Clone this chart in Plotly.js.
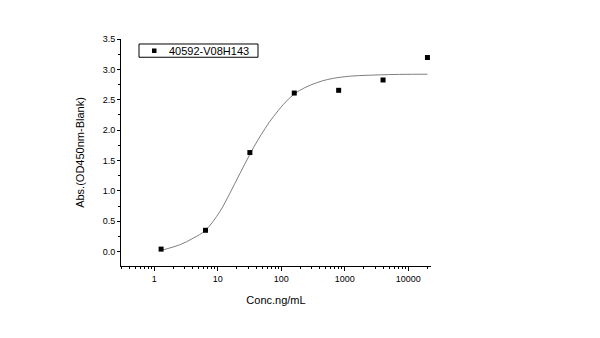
<!DOCTYPE html>
<html>
<head>
<meta charset="utf-8">
<script src="https://cdn.plot.ly/plotly-3.0.1.min.js"></script>
<style>html,body{margin:0;padding:0;background:#fff;}#chart{width:600px;height:338px;}</style>
</head>
<body>
<div id="chart"></div>
<script>
// Measured points
const conc = [1.28, 6.4, 32, 160, 800, 4000, 20000];
const absValues = [0.04, 0.35, 1.63, 2.61, 2.655, 2.825, 3.195];
// Fitted curve
const fitConc = [1.28, 2.5, 4.1, 6.4, 10.8, 15.5, 22.4, 31.3, 43, 75, 158, 360, 840, 3600, 20000];
const fitAbs = [0.02, 0.11, 0.22, 0.35, 0.66, 0.96, 1.29, 1.58, 1.84, 2.22, 2.59, 2.78, 2.87, 2.91, 2.92];
const seriesName = '40592-V08H143';
const xTickVals = [1, 10, 100, 1000, 10000];
const xTickText = ['1', '10', '100', '1000', '10000'];
const yTickVals = [0, 0.5, 1, 1.5, 2, 2.5, 3, 3.5];
const yTickText = ['0.0', '0.5', '1.0', '1.5', '2.0', '2.5', '3.0', '3.5'];

const font = 'Arial, "Liberation Sans", sans-serif';

const traces = [
  {x: fitConc, y: fitAbs, type: 'scatter', mode: 'lines', line: {color: '#7f7f7f', width: 1, shape: 'spline'}, showlegend: false, hoverinfo: 'skip'},
  {x: conc, y: absValues, type: 'scatter', mode: 'markers', name: seriesName, showlegend: false, marker: {symbol: 'square', size: 5, color: '#000'}}
];

// Legend drawn as a framed key (paper coordinates)
const legendShapes = [
  {type: 'rect', xref: 'paper', yref: 'paper', x0: 0.0581, x1: 0.4419, y0: 0.9196, y1: 0.978, line: {color: '#000', width: 1}, fillcolor: '#fff', layer: 'above'},
  {type: 'rect', xref: 'paper', yref: 'paper', x0: 0.1, x1: 0.1145, y0: 0.9385, y1: 0.9582, line: {width: 0}, fillcolor: '#000', layer: 'above'}
];

const layout = {
  width: 600, height: 338,
  margin: {l: 121, r: 169, t: 39, b: 71.5, pad: 0},
  paper_bgcolor: '#fff', plot_bgcolor: '#fff',
  font: {family: font, size: 9, color: '#000'},
  xaxis: {
    type: 'log', range: [-0.524, 4.357],
    tickvals: xTickVals, ticktext: xTickText,
    ticks: 'outside', ticklen: 4, tickwidth: 1, tickcolor: '#000',
    minor: {ticks: 'outside', ticklen: 2, tickwidth: 1, tickcolor: '#000', dtick: 'D1', showgrid: false},
    showline: true, linecolor: '#000', linewidth: 1,
    showgrid: false, zeroline: false,
    tickfont: {size: 9, family: font},
    title: {text: 'Conc.ng/mL', font: {size: 11, family: font}, standoff: 13}
  },
  yaxis: {
    range: [-0.238, 3.5],
    tickvals: yTickVals, ticktext: yTickText,
    ticks: 'outside', ticklen: 3, tickwidth: 1, tickcolor: '#000',
    minor: {ticks: 'outside', ticklen: 2, tickwidth: 1, tickcolor: '#000', dtick: 0.25, showgrid: false},
    showline: true, linecolor: '#000', linewidth: 1,
    showgrid: false, zeroline: false,
    tickfont: {size: 9, family: font},
    title: {text: 'Abs.(OD450nm-Blank)', font: {size: 11, family: font}, standoff: 15}
  },
  showlegend: false,
  shapes: legendShapes,
  annotations: [
    {xref: 'paper', yref: 'paper', x: 0.1468, y: 0.9488, xanchor: 'left', yanchor: 'middle', text: seriesName, showarrow: false, font: {size: 11, family: font, color: '#000'}}
  ]
};

Plotly.newPlot('chart', traces, layout, {displayModeBar: false, staticPlot: true});
</script>
</body>
</html>
